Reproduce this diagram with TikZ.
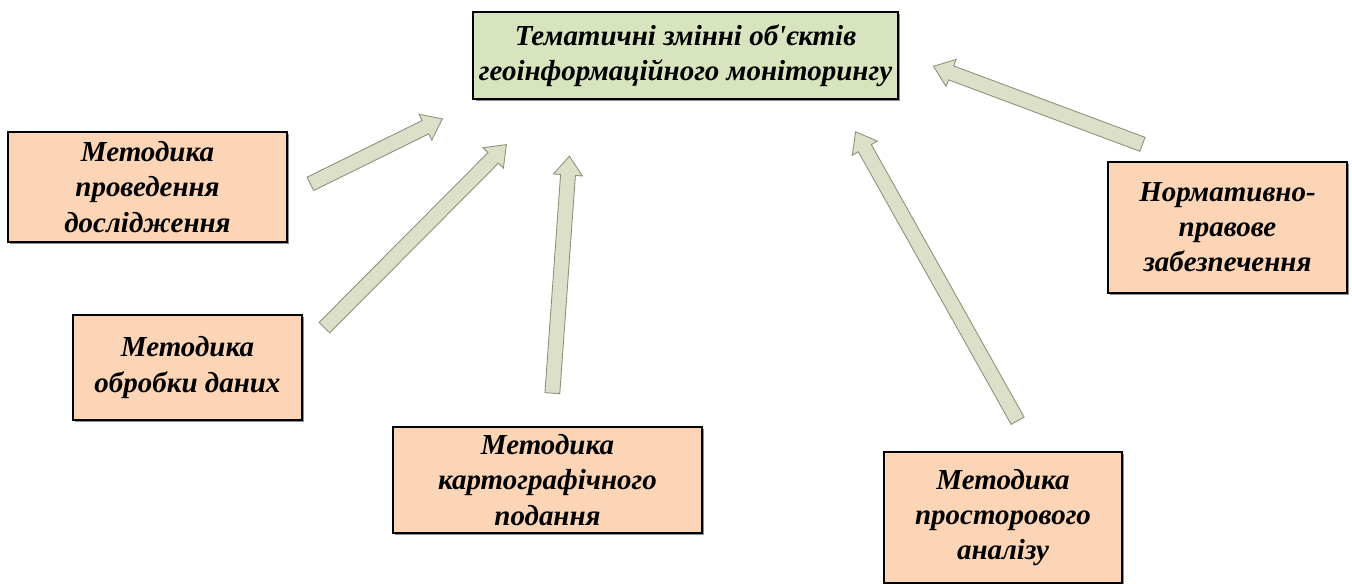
\documentclass[tikz,border=0pt]{standalone}
\usepackage{fontspec}
\setmainfont{Liberation Serif}[Ligatures=TeXOff]
\usepackage{tikz}
\usetikzlibrary{calc, shapes.arrows, shadows, positioning}

\definecolor{topicfill}{HTML}{D7E4BD}
\definecolor{methodfill}{HTML}{FBD5B5}
\definecolor{arrowfill}{HTML}{DDE0C8}
\definecolor{arrowline}{HTML}{8E9079}

\tikzstyle{box} = [rectangle, draw=black, line width=1.1pt, align=center, inner sep=0,
                   font=\fontsize{16.5}{20}\selectfont\bfseries\itshape,
                   drop shadow={shadow xshift=1.4pt, shadow yshift=-1.4pt, fill=black!55, opacity=0.8}]
\tikzstyle{topic} = [box, fill=topicfill]
\tikzstyle{method} = [box, fill=methodfill]
\tikzstyle{blockarrow} = [single arrow, draw=arrowline, fill=arrowfill, line width=0.5pt,
                          inner sep=0, inner ysep=0.14cm, outer sep=0, minimum width=0,
                          single arrow head extend=0.14cm, single arrow tip angle=75]

% block arrow from tail #1 to tip #2
\newcommand{\blockarrow}[2]{%
  \path let \p1 = ($(#2)-(#1)$), \n1 = {atan2(\y1,\x1)}, \n2 = {veclen(\x1,\y1)} in
    node [blockarrow, minimum height=\n2, rotate=\n1] at ($(#1)!0.5!(#2)$) {};}

\begin{document}
\begin{tikzpicture}[x=0.02cm, y=-0.02cm]
				\useasboundingbox (0, 0) rectangle (1352, 583);

				% target
				\node (Topic) [topic, minimum width=8.5cm, minimum height=1.74cm] at (685.5, 55.5)
					{Тематичні змінні об'єктів\\геоінформаційного моніторингу};

				% methods
				\node (Research) [method, minimum width=5.58cm, minimum height=2.2cm] at (147.5, 187)
					{Методика\\проведення\\дослідження};
				\node (Processing) [method, minimum width=4.58cm, minimum height=2.1cm] at (187.5, 367.5)
					{Методика\\обробки даних};
				\node (Mapping) [method, minimum width=6.18cm, minimum height=2.12cm] at (547.5, 480)
					{Методика\\картографічного\\подання};
				\node (Spatial) [method, minimum width=4.76cm, minimum height=2.62cm] at (1003, 517.5)
					{Методика\\просторового\\аналізу};
				\node (Legal) [method, minimum width=4.78cm, minimum height=2.62cm] at (1227.5, 227.5)
					{Нормативно-\\правове\\забезпечення};

				% arrows
				\coordinate (ResearchOut) at (306, 186);
				\coordinate (ResearchIn) at (438, 121);
				\blockarrow{ResearchOut}{ResearchIn}

				\coordinate (ProcessingOut) at (321, 331);
				\coordinate (ProcessingIn) at (503, 148);
				\blockarrow{ProcessingOut}{ProcessingIn}

				\coordinate (MappingOut) at (552, 398);
				\coordinate (MappingIn) at (569, 161);
				\blockarrow{MappingOut}{MappingIn}

				\coordinate (SpatialOut) at (1020, 425);
				\coordinate (SpatialIn) at (858, 136);
				\blockarrow{SpatialOut}{SpatialIn}

				\coordinate (LegalOut) at (1147, 146);
				\coordinate (LegalIn) at (938, 68);
				\blockarrow{LegalOut}{LegalIn}
\end{tikzpicture}
\end{document}
